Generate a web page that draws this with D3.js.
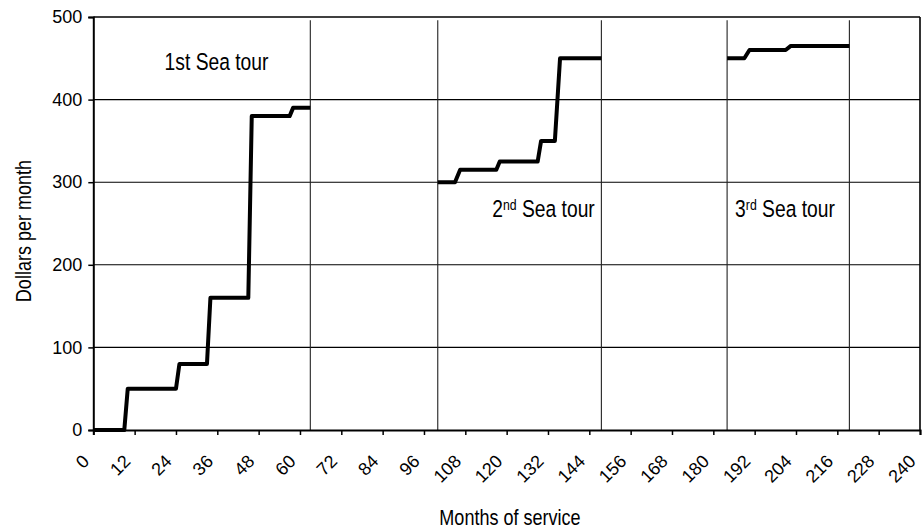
<!DOCTYPE html>
<html>
<head>
<meta charset="utf-8">
<script src="https://cdn.jsdelivr.net/npm/d3@7"></script>
<style>
  html, body { margin: 0; padding: 0; background: #fff; }
  svg { display: block; }
  .num { font-family: "Liberation Sans", Arial, sans-serif; font-size: 18px; fill: #000; }
  .lbl { font-family: "Liberation Sans", Arial, sans-serif; font-size: 22px; fill: #000; }
  .tour { font-family: "Liberation Sans", Arial, sans-serif; font-size: 23.5px; fill: #000; }
</style>
</head>
<body>
<script>
// ---- data ----
const xTicks = [0, 12, 24, 36, 48, 60, 72, 84, 96, 108, 120, 132, 144, 156, 168, 180, 192, 204, 216, 228, 240];
const yTicks = [0, 100, 200, 300, 400, 500];
const tourBoundaries = [63, 100, 147.5, 184, 219.5];

const tour1Months = [0, 9, 10, 24, 25, 33, 34, 45, 46, 57, 58, 63];
const tour1Pay    = [0, 0, 50, 50, 80, 80, 160, 160, 380, 380, 390, 390];
const tour2Months = [100, 105, 106.5, 117, 118, 129, 130, 134, 135.5, 147.5];
const tour2Pay    = [300, 300, 315, 315, 325, 325, 350, 350, 450, 450];
const tour3Months = [184, 189, 190.5, 201, 202.5, 219.5];
const tour3Pay    = [450, 450, 460, 460, 465, 465];

const tourLabels = [
  { base: "1", sup: "st", rest: " Sea tour", supStyle: false },
  { base: "2", sup: "nd", rest: " Sea tour", supStyle: true },
  { base: "3", sup: "rd", rest: " Sea tour", supStyle: true }
];
const xTitle = "Months of service";
const yTitle = "Dollars per month";

// ---- layout ----
const W = 923, H = 529;
const NARROW = 0.82;
const svg = d3.select("body").append("svg").attr("width", W).attr("height", H);

const x = d3.scaleLinear().domain([0, 240]).range([93.3, 920]);
const y = d3.scaleLinear().domain([0, 500]).range([430, 17]);

// horizontal gridlines
svg.append("g").selectAll("line").data(yTicks.filter(d => d > 0)).join("line")
  .attr("x1", x(0)).attr("x2", x(240))
  .attr("y1", d => y(d)).attr("y2", d => y(d))
  .attr("stroke", "#000").attr("stroke-width", d => d === 500 ? 1.6 : 1.1);

// right border
svg.append("line").attr("x1", x(240)).attr("x2", x(240)).attr("y1", y(500)).attr("y2", y(0))
  .attr("stroke", "#000").attr("stroke-width", 1.6);

// tour boundary lines
svg.append("g").selectAll("line").data(tourBoundaries).join("line")
  .attr("x1", d => x(d)).attr("x2", d => x(d))
  .attr("y1", y(496)).attr("y2", y(0))
  .attr("stroke", "#222").attr("stroke-width", 1.1);

// axes
const yAxis = d3.axisLeft(y).tickValues(yTicks).tickSize(5).tickPadding(6).tickFormat(d3.format("d"));
const gy = svg.append("g").attr("transform", `translate(${x(0)},0)`).call(yAxis);
gy.select(".domain").attr("stroke", "#000").attr("stroke-width", 2);
gy.selectAll(".tick line").attr("stroke", "#000").attr("stroke-width", 1.5);
gy.selectAll("text").attr("class", "num").attr("font-family", null).attr("font-size", null);

const xAxis = d3.axisBottom(x).tickValues(xTicks).tickSize(5).tickFormat(d3.format("d"));
const gx = svg.append("g").attr("transform", `translate(0,${y(0)})`).call(xAxis);
gx.select(".domain").attr("stroke", "#000").attr("stroke-width", 2);
gx.selectAll(".tick line").attr("stroke", "#000").attr("stroke-width", 1.5);
gx.selectAll("text").attr("class", "num").attr("font-family", null).attr("font-size", null)
  .attr("text-anchor", "end").attr("x", 0).attr("y", 0).attr("dy", "0.35em")
  .attr("transform", "translate(-8,28) rotate(-45)");

// data lines
const line = d3.line().x(d => x(d[0])).y(d => y(d[1]));
[[tour1Months, tour1Pay], [tour2Months, tour2Pay], [tour3Months, tour3Pay]].forEach(([m, p]) => {
  svg.append("path").datum(m.map((v, i) => [v, p[i]]))
    .attr("d", line).attr("fill", "none").attr("stroke", "#000")
    .attr("stroke-width", 4).attr("stroke-linejoin", "round");
});

// tour labels (condensed text)
const labelPos = [
  { cx: 216.5, by: 70 },
  { cx: 543.5, by: 217 },
  { cx: 785, by: 217 }
];
tourLabels.forEach((t, i) => {
  const g = svg.append("g")
    .attr("transform", `translate(${labelPos[i].cx},${labelPos[i].by}) scale(${NARROW},1)`);
  const tx = g.append("text").attr("class", "tour").attr("x", 0).attr("y", 0).attr("text-anchor", "middle");
  tx.append("tspan").text(t.base);
  if (t.supStyle) {
    tx.append("tspan").attr("font-size", "15px").attr("dy", "-7").text(t.sup);
    tx.append("tspan").attr("dy", "7").text(t.rest);
  } else {
    tx.append("tspan").text(t.sup + t.rest);
  }
});

// axis titles
svg.append("g").attr("transform", `translate(510,525) scale(${NARROW},1)`)
  .append("text").attr("class", "lbl").attr("text-anchor", "middle").text(xTitle);
svg.append("g").attr("transform", `translate(31,231) rotate(-90) scale(${NARROW},1)`)
  .append("text").attr("class", "lbl").attr("text-anchor", "middle").text(yTitle);
</script>
</body>
</html>
